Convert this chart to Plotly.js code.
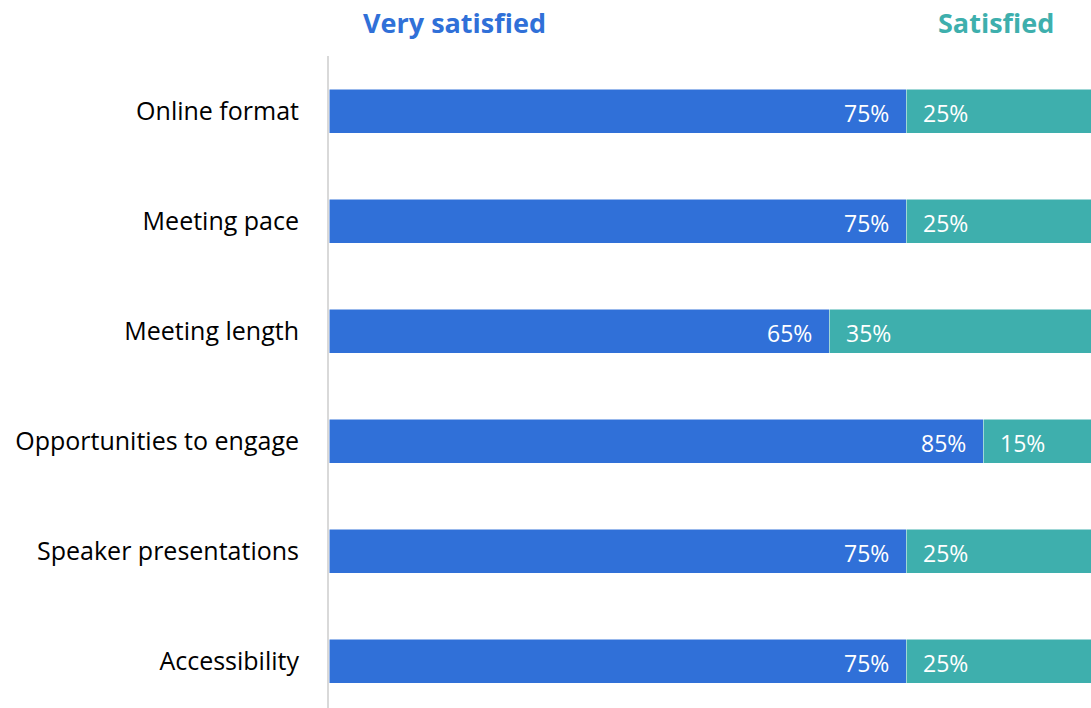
<!DOCTYPE html>
<html>
<head>
<meta charset="utf-8">
<script src="https://cdn.plot.ly/plotly-3.0.1.min.js"></script>
<style>html,body{margin:0;padding:0;background:#fff;}#chart{width:1091px;height:708px;}</style>
</head>
<body>
<div id="chart"></div>
<script>
const categories = ["Online format", "Meeting pace", "Meeting length", "Opportunities to engage", "Speaker presentations", "Accessibility"];
const verySatisfied = [75, 75, 65, 85, 75, 75];
const satisfied = [25, 25, 35, 15, 25, 25];
const seriesNames = ["Very satisfied", "Satisfied"];
const colors = ["#3070D8", "#3EAFAD"];

const FONT = "Open Sans, Noto Sans, sans-serif";

const traces = [
  {type: "bar", orientation: "h", name: seriesNames[0], y: categories, x: verySatisfied,
   marker: {color: colors[0], line: {color: "#ffffff", width: 0.5}}, width: 0.4, hoverinfo: "x+y"},
  {type: "bar", orientation: "h", name: seriesNames[1], y: categories, x: satisfied,
   marker: {color: colors[1], line: {color: "#ffffff", width: 0.5}}, width: 0.4, hoverinfo: "x+y"}
];

const annotations = [];
categories.forEach((c, i) => {
  annotations.push({x: verySatisfied[i], y: c, xref: "x", yref: "y", text: verySatisfied[i] + "%",
    showarrow: false, xanchor: "right", xshift: -15, yshift: -2, font: {family: FONT, size: 23, color: "#ffffff"}});
  annotations.push({x: verySatisfied[i], y: c, xref: "x", yref: "y", text: satisfied[i] + "%",
    showarrow: false, xanchor: "left", xshift: 15, yshift: -2, font: {family: FONT, size: 23, color: "#ffffff"}});
});
const headerY = 1 + (56 - 22) / 652;
annotations.push({x: 0.1646, y: headerY, xref: "paper", yref: "paper", xanchor: "center", yanchor: "middle",
  text: "<b>" + seriesNames[0] + "</b>", showarrow: false, font: {family: FONT, size: 27, color: colors[0]}});
annotations.push({x: 0.875, y: headerY, xref: "paper", yref: "paper", xanchor: "center", yanchor: "middle",
  text: "<b>" + seriesNames[1] + "</b>", showarrow: false, font: {family: FONT, size: 27, color: colors[1]}});

const layout = {
  width: 1091, height: 708,
  margin: {l: 328.5, r: 0, t: 56, b: 0, pad: 0},
  barmode: "stack",
  showlegend: false,
  paper_bgcolor: "#ffffff", plot_bgcolor: "#ffffff",
  font: {family: FONT, color: "#000000"},
  xaxis: {range: [0, 99], showgrid: false, zeroline: false, showticklabels: false, showline: false, fixedrange: true},
  yaxis: {type: "category", categoryorder: "array", categoryarray: categories, range: [5.427, -0.5],
    autorange: false, showgrid: false, zeroline: false, showline: true, linecolor: "#d9d9d9", linewidth: 2,
    ticks: "", ticklabelstandoff: 23, tickfont: {family: FONT, size: 25, color: "#000000"}},
  annotations: annotations
};

Plotly.newPlot("chart", traces, layout, {displayModeBar: false, staticPlot: true});
</script>
</body>
</html>
